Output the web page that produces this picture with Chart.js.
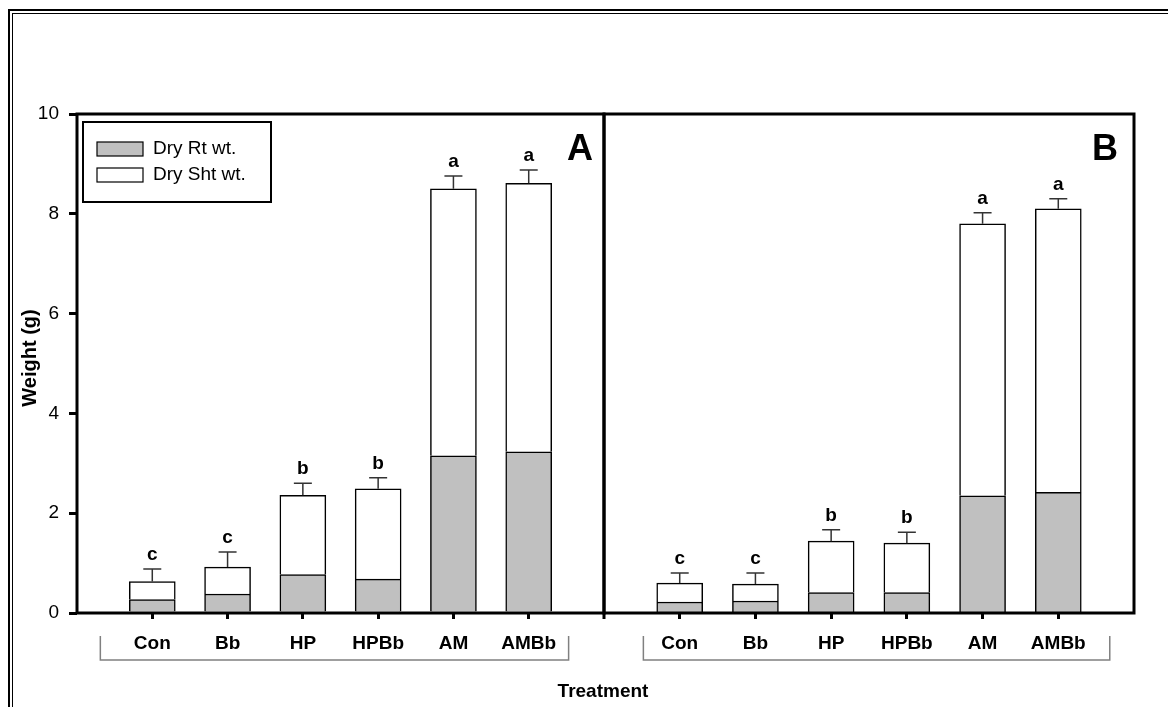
<!DOCTYPE html>
<html>
<head>
<meta charset="utf-8">
<script src="https://cdn.jsdelivr.net/npm/chart.js@4.4.0/dist/chart.umd.min.js"></script>
<style>
  html, body { margin: 0; padding: 0; background: #fff; }
  #wrap { position: relative; width: 1168px; height: 707px; overflow: hidden; }
  canvas { position: absolute; left: 0; top: 0; }
  .frame1 { position: absolute; left: 8px; top: 9px; width: 1300px; height: 900px; border-left: 2px solid #000; border-top: 2px solid #000; }
  .frame2 { position: absolute; left: 12px; top: 13px; width: 1300px; height: 900px; border-left: 1px solid #000; border-top: 1px solid #000; }
</style>
</head>
<body>
<div id="wrap">
  <div class="frame1"></div>
  <div class="frame2"></div>
  <canvas id="chartA" width="1168" height="707"></canvas>
  <canvas id="chartB" width="1168" height="707"></canvas>
</div>
<script>
const FONT = "'Liberation Sans', Arial, sans-serif";

const categories = ["Con", "Bb", "HP", "HPBb", "AM", "AMBb"];
const yTicks = [0, 2, 4, 6, 8, 10];

// Panel A
const rootA = [0.27, 0.38, 0.77, 0.68, 3.15, 3.23];
const shootA = [0.36, 0.54, 1.59, 1.81, 5.35, 5.38];
const errA = [0.25, 0.30, 0.24, 0.22, 0.26, 0.27];
const lettersA = ["c", "c", "b", "b", "a", "a"];

// Panel B
const rootB = [0.22, 0.24, 0.41, 0.41, 2.35, 2.42];
const shootB = [0.38, 0.34, 1.03, 0.99, 5.45, 5.68];
const errB = [0.20, 0.22, 0.23, 0.22, 0.22, 0.20];
const lettersB = ["c", "c", "b", "b", "a", "a"];

const toPoints = (vals) => vals.map((v, i) => ({ x: i + 1, y: v }));

// error bars, letters, frame, bracket and other decorations
const decor = {
  id: "decor",
  afterDatasetsDraw(chart, args, opts) {
    const { ctx, chartArea: a, scales: { x, y } } = chart;
    ctx.save();

    // error bars on the stacked totals + significance letters
    opts.root.forEach((r, i) => {
      const total = r + opts.shoot[i];
      const px = x.getPixelForValue(i + 1);
      const top = y.getPixelForValue(total);
      const cap = y.getPixelForValue(total + opts.err[i]);
      ctx.strokeStyle = "#333";
      ctx.lineWidth = 1.5;
      ctx.beginPath();
      ctx.moveTo(px, top);
      ctx.lineTo(px, cap);
      ctx.moveTo(px - 9, cap);
      ctx.lineTo(px + 9, cap);
      ctx.stroke();
      ctx.fillStyle = "#000";
      ctx.font = "bold 19px " + FONT;
      ctx.textAlign = "center";
      ctx.textBaseline = "alphabetic";
      ctx.fillText(opts.letters[i], px, cap - 9);
    });

    // plot frame
    ctx.strokeStyle = "#000";
    ctx.lineWidth = 3;
    ctx.strokeRect(a.left, a.top, a.right - a.left, a.bottom - a.top);
    if (opts.dividerTick) {
      ctx.beginPath();
      ctx.moveTo(a.left, a.bottom);
      ctx.lineTo(a.left, a.bottom + 6);
      ctx.stroke();
    }

    // panel letter
    ctx.font = "bold 36px " + FONT;
    ctx.textAlign = "right";
    ctx.fillText(opts.panel, a.right - opts.panelInset, a.top + 46);

    // bracket under the category labels
    const bx0 = x.getPixelForValue(opts.bracket[0]);
    const bx1 = x.getPixelForValue(opts.bracket[1]);
    ctx.strokeStyle = "#808080";
    ctx.lineWidth = 1.5;
    ctx.beginPath();
    ctx.moveTo(bx0, a.bottom + 23);
    ctx.lineTo(bx0, a.bottom + 47);
    ctx.lineTo(bx1, a.bottom + 47);
    ctx.lineTo(bx1, a.bottom + 23);
    ctx.stroke();

    // legend (panel A only)
    if (opts.legend) {
      const lx = a.left + 6, ly = a.top + 8;
      ctx.strokeStyle = "#000";
      ctx.lineWidth = 2;
      ctx.strokeRect(lx, ly, 188, 80);
      chart.data.datasets.forEach((ds, k) => {
        const sy = ly + 20 + k * 26;
        ctx.fillStyle = ds.backgroundColor;
        ctx.fillRect(lx + 14, sy, 46, 14);
        ctx.strokeStyle = "#000";
        ctx.lineWidth = 1.2;
        ctx.strokeRect(lx + 14, sy, 46, 14);
        ctx.fillStyle = "#000";
        ctx.font = "19px " + FONT;
        ctx.textAlign = "left";
        ctx.textBaseline = "middle";
        ctx.fillText(ds.label, lx + 70, sy + 7);
      });
    }

    // axis titles (panel A draws both)
    if (opts.titles) {
      ctx.fillStyle = "#000";
      ctx.font = "bold 20px " + FONT;
      ctx.textAlign = "center";
      ctx.textBaseline = "middle";
      ctx.save();
      ctx.translate(30, 358);
      ctx.rotate(-Math.PI / 2);
      ctx.fillText("Weight (g)", 0, 0);
      ctx.restore();
      ctx.font = "bold 19px " + FONT;
      ctx.fillText("Treatment", 603, a.bottom + 79);
    }
    ctx.restore();
  }
};

function makePanel(id, root, shoot, err, letters, extra) {
  return new Chart(document.getElementById(id), {
    type: "bar",
    data: {
      datasets: [
        { label: "Dry Rt wt.", data: toPoints(root), backgroundColor: "#c0c0c0",
          borderColor: "#000", borderWidth: 1.5, barThickness: 46 },
        { label: "Dry Sht wt.", data: toPoints(shoot), backgroundColor: "#ffffff",
          borderColor: "#000", borderWidth: 1.5, barThickness: 46 }
      ]
    },
    options: {
      responsive: false,
      animation: false,
      events: [],
      layout: { padding: extra.padding },
      plugins: {
        legend: { display: false },
        tooltip: { enabled: false },
        decor: Object.assign({ root, shoot, err, letters }, extra.decor)
      },
      scales: {
        x: {
          type: "linear",
          stacked: true,
          min: 0,
          max: 7,
          offset: false,
          afterBuildTicks: (s) => { s.ticks = categories.map((c, i) => ({ value: i + 1 })); },
          afterFit: (s) => { s.height = 94; },
          border: { display: false },
          grid: { offset: false, drawOnChartArea: false, drawTicks: true, tickLength: 6, lineWidth: 3, color: "#000" },
          ticks: {
            autoSkip: false,
            maxRotation: 0,
            padding: 13,
            color: "#000",
            font: { family: FONT, size: 19, weight: "bold" },
            callback: (v) => categories[v - 1]
          }
        },
        y: {
          stacked: true,
          min: 0,
          max: 10,
          display: extra.showY,
          afterBuildTicks: (s) => { s.ticks = yTicks.map((v) => ({ value: v })); },
          afterFit: (s) => { s.width = extra.showY ? 77 : 0; },
          border: { display: false },
          grid: { drawOnChartArea: false, drawTicks: true, tickLength: 8, lineWidth: 3, color: "#000" },
          ticks: { padding: 10, color: "#000", font: { family: FONT, size: 19 } }
        }
      }
    },
    plugins: [decor]
  });
}

makePanel("chartA", rootA, shootA, errA, lettersA, {
  showY: true,
  padding: { left: 0, top: 114, right: 1168 - 604, bottom: 0 },
  decor: { panel: "A", panelInset: 11, bracket: [0.31, 6.53], legend: true, titles: true, dividerTick: false }
});

makePanel("chartB", rootB, shootB, errB, lettersB, {
  showY: false,
  padding: { left: 604, top: 114, right: 1168 - 1134, bottom: 0 },
  decor: { panel: "B", panelInset: 16, bracket: [0.52, 6.68], legend: false, titles: false, dividerTick: true }
});
</script>
</body>
</html>
